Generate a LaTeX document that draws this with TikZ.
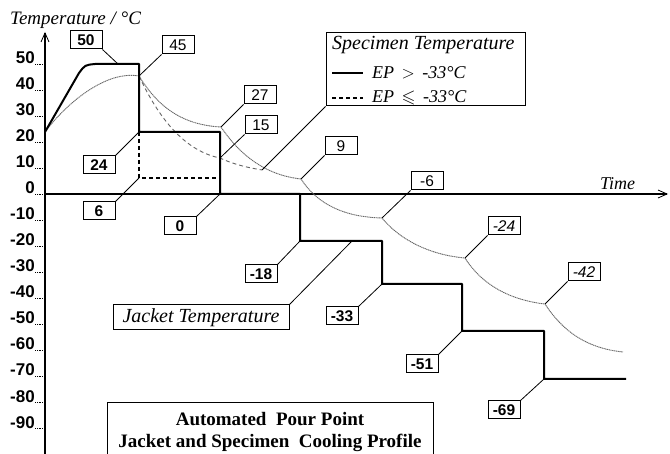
\documentclass[tikz,border=0pt]{standalone}
\usepackage{fontspec}
\usepackage{amssymb}
\setmainfont{Liberation Serif}
\setsansfont{Liberation Sans}
\usetikzlibrary{arrows.meta}
\tikzset{
  jacket/.style={line width=2pt, line join=round},
  jdash/.style={line width=2pt, dash pattern=on 4pt off 3pt},
  spec/.style={line width=0.9pt, black!60, dash pattern=on 1.2pt off 0.6pt},
  specdash/.style={line width=0.9pt, black!60, dash pattern=on 4pt off 3pt},
  lbl/.style={draw, line width=1pt, minimum width=32pt, minimum height=18pt, inner sep=0pt, font=\fontsize{15.5}{15.5}\sffamily\bfseries},
  lbls/.style={lbl, font=\fontsize{15.5}{15.5}\sffamily},
  leader/.style={line width=0.8pt},
  ticklbl/.style={font=\fontsize{17}{17}\sffamily\bfseries, anchor=base east, inner sep=0pt},
  ital/.style={font=\fontsize{20}{20}\selectfont\itshape, inner sep=0pt},
  axisline/.style={line width=1.8pt},
  tipend/.style={-{Straight Barb[length=9pt,width=8pt,line width=0.8pt]}}
}
\begin{document}
\begin{tikzpicture}[x=1pt,y=-1pt]
\useasboundingbox (0,0) rectangle (670,454);
% axes
\coordinate (yb) at (45,454);
\coordinate (yt) at (45,32);
\coordinate (xl) at (45,194);
\coordinate (xr) at (668,194);
\draw[axisline,tipend] (yb) -- (yt);
\draw[axisline,tipend] (xl) -- (xr);
\node[ital, anchor=base west, font=\fontsize{19}{19}\selectfont\itshape] (ylab) at (10,25) {Temperature / °C};
\node[ital, anchor=base west, font=\fontsize{18}{18}\selectfont\itshape] (xlab) at (600,190) {Time};
% ticks
\foreach \v in {50,40,...,-90}{
  \pgfmathsetmacro\yy{194-2.6*\v}
  \node[ticklbl] (t\v) at (35,\yy) {\v};
  \draw[densely dotted, line width=0.8pt] (t\v.base east) -- (45,\yy);
}
% key points
\coordinate (j0) at (45,132);
\coordinate (p50) at (118,64);
\coordinate (s45) at (139,76);
\coordinate (j24) at (139,132);
\coordinate (j6) at (139,178);
\coordinate (j0b) at (220,194);
\coordinate (s27) at (221,127);
\coordinate (s15) at (220,158);
\coordinate (s9) at (301,179);
\coordinate (sm6) at (382,218);
\coordinate (sm24) at (465,258);
\coordinate (sm42) at (545,304);
\coordinate (jm18) at (300,241);
\coordinate (jm33) at (382,284);
\coordinate (jm51) at (462,331);
\coordinate (jm69) at (544,379);
\coordinate (sjoin) at (262,170);
\coordinate (jpt) at (352,241);
% specimen curves
\draw[spec] (j0) .. controls (65,105) and (105,70) .. (s45)
  .. controls (160,110) and (185,125) .. (s27)
  .. controls (240,155) and (265,175) .. (s9)
  .. controls (318,205) and (345,217) .. (sm6)
  .. controls (400,240) and (430,255) .. (sm24)
  .. controls (482,285) and (510,300) .. (sm42)
  .. controls (562,330) and (585,348) .. (623,352);
\draw[specdash] (s45) .. controls (155,110) and (180,150) .. (s15)
  .. controls (235,165) and (250,168) .. (sjoin);
% jacket
\draw[jacket] (j0) -- (79,73) .. controls (85,65) .. (95,64) -- (139,64) -- (j24)
  -- (220,132) -- (j0b) -- (300,194) -- (jm18) -- (382,241) -- (jm33)
  -- (462,284) -- (jm51) -- (544,331) -- (jm69) -- (626,379);
\draw[jdash] (j24) -- (j6) -- (220,178);
% labels
\node[lbl] (b50) at (86,40) {50};
\node[lbls] (b45) at (178,45) {45};
\node[lbl] (b24) at (99,165) {24};
\node[lbl] (b6) at (99,211) {6};
\node[lbl] (b0) at (180,226) {0};
\node[lbls] (b27) at (260,95) {27};
\node[lbls] (b15) at (261,125) {15};
\node[lbls] (b9) at (341,146) {9};
\node[lbls] (bm6) at (427,181) {-6};
\node[lbl] (bm18) at (261,274) {-18};
\node[lbl] (bm33) at (342,316) {-33};
\node[lbl] (bm51) at (422,364) {-51};
\node[lbl] (bm69) at (504,410) {-69};
\node[lbls, font=\fontsize{15.5}{15.5}\sffamily\itshape] (bm24) at (504,226) {-24};
\node[lbls, font=\fontsize{15.5}{15.5}\sffamily\itshape] (bm42) at (584,272) {-42};
\draw[leader] (b50.south east) -- (p50);
\draw[leader] (b45.south west) -- (s45);
\draw[leader] (b24.north east) -- (j24);
\draw[leader] (b6.north east) -- (j6);
\draw[leader] (b0.north east) -- (j0b);
\draw[leader] (b27.south west) -- (s27);
\draw[leader] (b15.south west) -- (s15);
\draw[leader] (b9.south west) -- (s9);
\draw[leader] (bm6.south west) -- (sm6);
\draw[leader] (bm18.north east) -- (jm18);
\draw[leader] (bm33.north east) -- (jm33);
\draw[leader] (bm51.north east) -- (jm51);
\draw[leader] (bm69.north east) -- (jm69);
\draw[leader] (bm24.south west) -- (sm24);
\draw[leader] (bm42.south west) -- (sm42);
% legend
\node[draw, line width=1pt, minimum width=199pt, minimum height=73pt, inner sep=0pt] (legend) at (425.5,69.5) {};
\node[ital, anchor=base west] (lgt) at (332,50) {Specimen Temperature};
\coordinate (ls1) at (332,73);
\coordinate (ls2) at (363,73);
\coordinate (ld1) at (332,98);
\coordinate (ld2) at (363,98);
\draw[line width=1.2pt] (ls1) -- (ls2);
\draw[line width=1.2pt, dash pattern=on 4pt off 3pt] (ld1) -- (ld2);
\node[ital, anchor=base west, font=\fontsize{18}{18}\selectfont\itshape] (lg1) at (372,79) {EP \,$>$\, -33°C};
\node[ital, anchor=base west, font=\fontsize{18}{18}\selectfont\itshape] (lg2) at (372,103) {EP \,$\leqslant$\, -33°C};
\draw[leader] (legend.south west) -- (sjoin);
% jacket box
\node[draw, line width=1pt, minimum width=176pt, minimum height=25pt, inner sep=0pt, font=\fontsize{20}{20}\selectfont\itshape] (jbox) at (201,317.5) {Jacket Temperature};
\draw[leader] (jbox.north east) -- (jpt);
% title
\node[draw, line width=1pt, minimum width=326pt, minimum height=59pt, inner sep=0pt, align=center, font=\fontsize{19}{22}\selectfont\bfseries] (title) at (270,432) {Automated\ \ Pour Point\\Jacket and Specimen\ \ Cooling Profile};
\end{tikzpicture}
\end{document}
